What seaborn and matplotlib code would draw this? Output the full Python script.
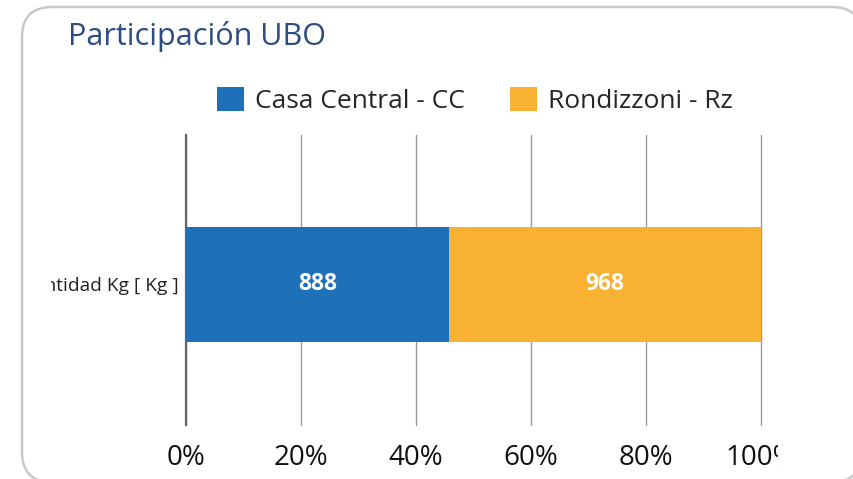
import matplotlib
matplotlib.use("Agg")
import matplotlib.pyplot as plt
import seaborn as sns
import pandas as pd
from matplotlib.patches import FancyBboxPatch, Patch
from matplotlib.transforms import Bbox, IdentityTransform

# Data
categoria = ["Cantidad Kg [ Kg ]"]
series = ["Casa Central - CC", "Rondizzoni - Rz"]
casa_central_kg = [888]
rondizzoni_kg = [968]
# share of the bar (percent) as drawn in the picture
casa_central_pct = [45.7]
rondizzoni_pct = [54.3]
xticks = [0, 20, 40, 60, 80, 100]

col_cc = "#1E70B8"
col_rz = "#F8B133"

sns.set_style("white")
plt.rcParams['font.family'] = ['Open Sans', 'DejaVu Sans']

W, H = 854, 479
fig = plt.figure(figsize=(W / 100, H / 100), dpi=100)

# card background with rounded border (pixel coords, partly off the image)
card = FancyBboxPatch((22, -3), 840, 475, boxstyle="round,pad=0,rounding_size=30",
                      transform=IdentityTransform(), facecolor="white",
                      edgecolor="#c9c9c9", linewidth=1.8, zorder=0)
fig.add_artist(card)

fig.text(68 / W, 1 - 37 / H, "Participación UBO", fontsize=22, color="#2D4C81",
         va="center", ha="left")

ax = fig.add_axes([186 / W, 54 / H, 575 / W, 290 / H])
ax.patch.set_alpha(0)

df = pd.DataFrame({"categoria": categoria, "cc": casa_central_pct, "rz": rondizzoni_pct})
df["total"] = df["cc"] + df["rz"]

# stacked: full bar in orange, blue share drawn over it
sns.barplot(data=df, x="total", y="categoria", color=col_rz, orient="h",
            width=0.397, saturation=1, linewidth=0, ax=ax, zorder=2)
sns.barplot(data=df, x="cc", y="categoria", color=col_cc, orient="h",
            width=0.397, saturation=1, linewidth=0, ax=ax, zorder=3)

for i in range(len(categoria)):
    ax.text(df["cc"][i] / 2, i, str(casa_central_kg[i]), ha="center", va="center",
            color="white", fontsize=16.5, fontweight="bold", zorder=5)
    ax.text(df["cc"][i] + df["rz"][i] / 2, i, str(rondizzoni_kg[i]), ha="center", va="center",
            color="white", fontsize=16.5, fontweight="bold", zorder=5)

ax.set_xlim(0, 100)
ax.set_ylim(0.4845, -0.5155)
ax.set_xticks(xticks)
ax.set_xticklabels([f"{v}%" for v in xticks])
ax.set_xlabel("")
ax.set_ylabel("")
ax.xaxis.grid(True, color="#9a9a9a", linewidth=1)
for line in ax.get_xgridlines():
    line.set_clip_on(False)
ax.set_axisbelow(True)
for s in ["top", "right", "bottom"]:
    ax.spines[s].set_visible(False)
ax.spines["left"].set_color("#666666")
ax.spines["left"].set_linewidth(1.6)
ax.tick_params(axis="x", length=0, labelsize=20, pad=14, labelcolor="#111111")
ax.tick_params(axis="y", length=0, labelsize=13.8, pad=5, labelcolor="#222222")

# the long labels are cut by the card frame
clip = Bbox.from_extents(51, 0, 778, H)
for lab in ax.get_yticklabels() + ax.get_xticklabels():
    lab.set_clip_on(True)
    lab.set_clip_box(clip)

handles = [Patch(facecolor=col_cc, edgecolor="none"), Patch(facecolor=col_rz, edgecolor="none")]
ax.legend(handles, series, loc="center", bbox_to_anchor=(0.502, 1.12), ncol=2,
          frameon=False, fontsize=19, handlelength=1.05, handleheight=1.05,
          handletextpad=0.4, columnspacing=1.7, borderaxespad=0)

fig.savefig("out.png", dpi=100)
